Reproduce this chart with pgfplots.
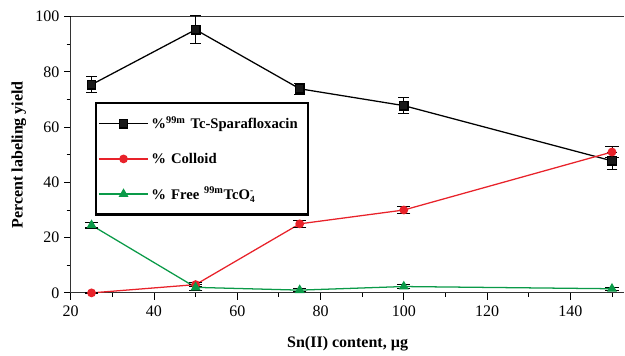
\documentclass[border=0pt]{standalone}
\usepackage{pgfplots}
\pgfplotsset{compat=1.18}
\usepackage{fontspec}
\setmainfont{Liberation Serif}
\definecolor{cred}{RGB}{232,34,42}
\definecolor{cgreen}{RGB}{10,154,72}
\begin{document}
\begin{tikzpicture}
\begin{axis}[
  scale only axis,
  width=415pt, height=207pt,
  xmin=20, xmax=153, ymin=0, ymax=100,
  axis x line=box, axis y line=left,
  x axis line style={-}, y axis line style={-},
  xtick={20,40,...,140}, minor xtick={30,50,...,150},
  ytick={0,20,...,100}, minor ytick={10,30,...,90},
  xtick pos=bottom, ytick pos=left,
  tick align=outside,
  major tick length=5pt, minor tick length=3pt,
  tick style={black, line width=0.7pt},
  axis line style={line width=0.8pt, black!80},
  /pgf/number format/assume math mode=true,
  ticklabel style={font=\fontsize{12}{13}\selectfont},
  xticklabel style={yshift=-1pt},
  xlabel={\textbf{Sn(II) content, µg}},
  ylabel={\textbf{Percent labeling yield}},
  label style={font=\fontsize{12}{13}\selectfont},
  xlabel style={yshift=-8pt},
  ylabel style={yshift=0pt},
  clip=false,
  legend style={at={(rel axis cs:0.043,0.69)}, anchor=north west,
    draw=black, line width=1.6pt, font=\fontsize{11}{13}\selectfont\bfseries,
    row sep=12.5pt, inner xsep=2pt, inner ysep=8pt, text width=113pt},
  legend cell align=left,
  legend image code/.code={
    \draw[#1, line width=0.9pt] (0cm,0cm) -- (1.3cm,0cm);
    \draw[#1, line width=0.9pt] plot coordinates {(0.65cm,0cm)};
  },
  every axis plot/.append style={line width=0.95pt},
]
\addplot+[black, mark=square*, mark size=3.2pt, mark options={solid, fill=black!90},
  error bars/.cd, y dir=both, y explicit,
  error bar style={line width=0.7pt},
  error mark options={rotate=90, mark size=4pt, line width=0.8pt}]
  coordinates {
  (25,75.4) +- (0,3)
  (50,95.3) +- (0,5)
  (75,73.9) +- (0,2)
  (100,67.8) +- (0,3)
  (150,47.8) +- (0,3)
};
\addlegendentry{\%\textsuperscript{99m} Tc-Sparafloxacin}
\addplot+[cred, mark=*, mark size=2.8pt, mark options={solid, fill=cred},
  error bars/.cd, y dir=both, y explicit,
  error bar style={line width=0.7pt, black},
  error mark options={rotate=90, mark size=5pt, line width=0.8pt, black}]
  coordinates {
  (25,0) +- (0,0.3)
  (50,3) +- (0,0.6)
  (75,25) +- (0,1.3)
  (100,30) +- (0,1.3)
  (150,51) +- (0,2)
};
\addlegendentry{\% Colloid}
\addplot+[cgreen, mark=triangle*, mark size=3.4pt, mark options={solid, fill=cgreen},
  error bars/.cd, y dir=both, y explicit,
  error bar style={line width=0.7pt, black},
  error mark options={rotate=90, mark size=5pt, line width=0.8pt, black}]
  coordinates {
  (25,24.5) +- (0,1)
  (50,2) +- (0,1)
  (75,1) +- (0,0.6)
  (100,2.3) +- (0,0.6)
  (150,1.5) +- (0,0.6)
};
\addlegendentry{\% Free \textsuperscript{99m}TcO$_{\textbf{\scriptsize 4}}^{\textbf{\scriptsize -}}$}
\end{axis}
\path (current axis.south west) ++(-53pt,-46pt);
\path (current axis.north east) ++(0,12.5pt);
\end{tikzpicture}
\end{document}
